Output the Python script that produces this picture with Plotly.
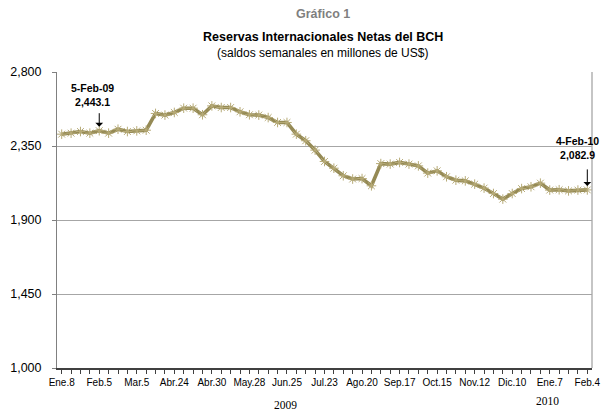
import plotly.graph_objects as go

# Weekly net international reserves (millions US$), Jan 8 2009 - Feb 4 2010
values = [2422, 2428, 2438, 2428, 2443.1, 2428, 2452, 2438, 2442, 2446,
          2548, 2538, 2554, 2580, 2580, 2540, 2594, 2584, 2584, 2558,
          2540, 2538, 2523, 2493, 2493, 2422, 2382, 2325, 2256, 2215,
          2169, 2149, 2152, 2108, 2243, 2240, 2250, 2240, 2229, 2185,
          2199, 2163, 2142, 2138, 2118, 2094, 2061, 2027, 2061, 2091,
          2102, 2124, 2082, 2084, 2077, 2082, 2082.9]
tick_labels = ["Ene.8", "Feb.5", "Mar.5", "Abr.24", "Abr.30", "May.28", "Jun.25",
               "Jul.23", "Ago.20", "Sep.17", "Oct.15", "Nov.12", "Dic.10", "Ene.7", "Feb.4"]
y_ticks = [1000, 1450, 1900, 2350, 2800]
label_step = 4

weeks = list(range(len(values)))
tickvals = weeks
ticktext = [tick_labels[i // label_step] if i % label_step == 0 else "" for i in weeks]

LINE = "#958a55"
MARK = "#b7ab78"
FONT = "Liberation Sans Narrow, Arial Narrow, Liberation Sans, Arial"

fig = go.Figure()
fig.add_trace(go.Scatter(
    x=weeks, y=values, mode="lines+markers",
    line=dict(color=LINE, width=3.6),
    marker=dict(symbol="asterisk-open", size=8, color=MARK,
                line=dict(color=MARK, width=1)),
    hoverinfo="skip", showlegend=False,
))

fig.update_layout(
    width=610, height=410,
    margin=dict(l=54, r=10, t=72, b=42),
    paper_bgcolor="white", plot_bgcolor="white",
    font=dict(family=FONT, size=11, color="#000000"),
    xaxis=dict(
        range=[-0.5, len(values) - 0.5],
        tickmode="array", tickvals=tickvals, ticktext=ticktext,
        ticks="outside", ticklen=4, tickwidth=1, tickcolor="#404040",
        showline=True, linecolor="#404040", linewidth=1.5, mirror=False,
        showgrid=False, zeroline=False,
        tickfont=dict(family=FONT, size=10, color="#000000"),
        tickangle=0,
    ),
    yaxis=dict(
        range=[1000, 2800],
        tickmode="array", tickvals=y_ticks,
        ticktext=[f"{v:,}" for v in y_ticks],
        ticks="outside", ticklen=4, tickcolor="#808080",
        showline=True, linecolor="#808080", linewidth=1,
        showgrid=True, gridcolor="#a6a6a6", gridwidth=1.3,
        zeroline=False, ticklabelstandoff=8,
        tickfont=dict(family="Liberation Sans, Arial", size=12.5, color="#000000"),
    ),
    shapes=[dict(type="line", xref="paper", yref="paper", x0=1, x1=1, y0=0, y1=1,
                 line=dict(color="#a6a6a6", width=1.3))],
)

ann = []
cx = (325 - 54) / 546
# titles
ann.append(dict(xref="paper", yref="paper", x=cx, y=(368 - 14) / 296, yanchor="middle",
                text="<b>Gráfico 1</b>",
                showarrow=False, font=dict(family=FONT, size=12.5, color="#7f7f7f")))
ann.append(dict(xref="paper", yref="paper", x=cx, y=(368 - 37) / 296, yanchor="middle",
                text="<b>Reservas Internacionales Netas del BCH</b>",
                showarrow=False, font=dict(family=FONT, size=12.5, color="#000000")))
ann.append(dict(xref="paper", yref="paper", x=cx, y=(368 - 53) / 296, yanchor="middle",
                text="(saldos semanales en millones de US$)",
                showarrow=False, font=dict(family=FONT, size=12, color="#000000")))
# first point annotation
i0 = 4
ann.append(dict(x=i0, y=values[i0], text="", showarrow=True, arrowhead=1,
                arrowsize=1.3, arrowwidth=1, arrowcolor="#000000",
                ax=0, ay=-19, standoff=4))
ann.append(dict(x=i0, y=values[i0], text="<b>5-Feb-09<br>2,443.1</b>", showarrow=False,
                yanchor="bottom", yshift=21, xshift=-7, font=dict(family=FONT, size=10.5),
                align="center"))
# last point annotation
i1 = len(values) - 1
ann.append(dict(x=i1, y=values[i1], text="", showarrow=True, arrowhead=1,
                arrowsize=1.3, arrowwidth=1, arrowcolor="#000000",
                ax=0, ay=-22, standoff=4))
ann.append(dict(x=i1, y=values[i1], text="<b>4-Feb-10<br>2,082.9</b>", showarrow=False,
                yanchor="bottom", xanchor="right", xshift=14, yshift=27,
                font=dict(family=FONT, size=10.5), align="center"))
# years
ann.append(dict(xref="paper", yref="paper", x=(287 - 54) / 546, y=-(405 - 368) / 296,
                yanchor="middle", text="2009", showarrow=False,
                font=dict(family="Liberation Serif, Times New Roman", size=11.5)))
ann.append(dict(xref="paper", yref="paper", x=(568 - 54) / 546, y=-(401 - 368) / 296,
                yanchor="middle", text="2010", showarrow=False,
                font=dict(family="Liberation Serif, Times New Roman", size=11.5)))
fig.update_layout(annotations=ann)

fig.write_html("out.html", config={"displayModeBar": False},
               post_script="document.body.style.margin='0';document.body.style.overflow='hidden';")
